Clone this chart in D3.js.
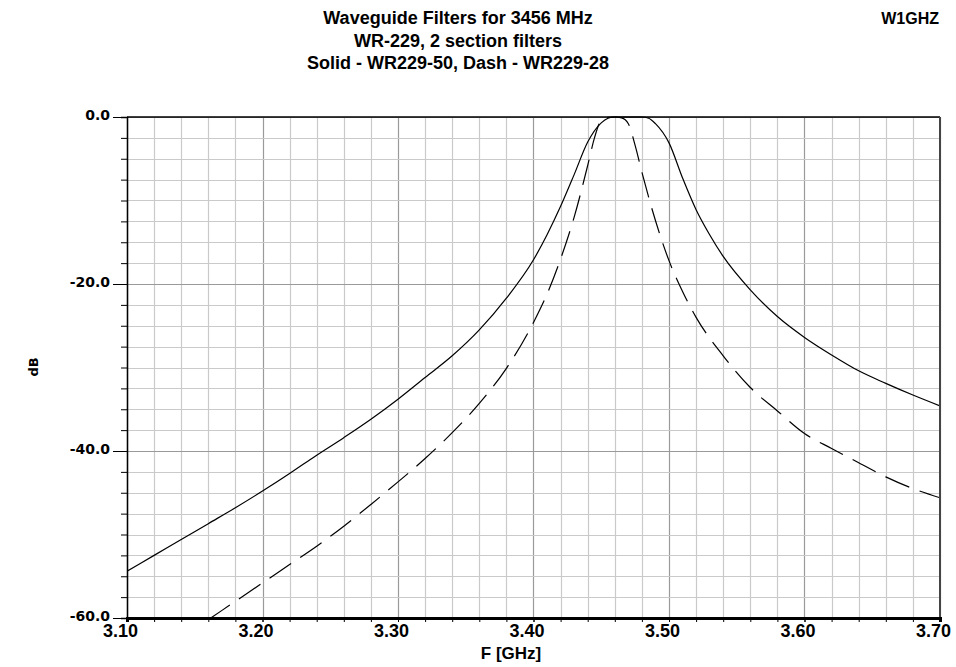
<!DOCTYPE html>
<html>
<head>
<meta charset="utf-8">
<script src="https://cdn.jsdelivr.net/npm/d3@7"></script>
<style>
  body { margin: 0; background: #fff; }
  svg { display: block; }
</style>
</head>
<body>
<script>
// page size
const width = 956;
const height = 667;

// plot area
const plotLeft = 127, plotRight = 940, plotTop = 117, plotBottom = 618;

// Solid - WR229-50 (frequency in GHz, response in dB)
const freqSolid = [3.10, 3.12, 3.14, 3.16, 3.18, 3.20, 3.22, 3.24, 3.26, 3.28, 3.30, 3.32, 3.34, 3.36, 3.38, 3.40,
    3.41, 3.42, 3.43, 3.44, 3.45, 3.455, 3.46, 3.47, 3.48, 3.485, 3.49, 3.50, 3.51, 3.52, 3.53, 3.54, 3.56, 3.58,
    3.60, 3.62, 3.64, 3.66, 3.68, 3.70];
const dbSolid = [-54.4, -52.5, -50.6, -48.7, -46.8, -44.8, -42.7, -40.5, -38.4, -36.2, -33.8, -31.2, -28.6, -25.5, -21.7, -17.1,
    -14.1, -10.7, -6.9, -3.0, -0.7, -0.15, 0, 0, 0, -0.15, -0.8, -3.1, -7.3, -11.1, -14.1, -16.7, -20.7, -23.9,
    -26.4, -28.5, -30.4, -31.9, -33.3, -34.6];

// Dash - WR229-28
const freqDash = [3.16, 3.18, 3.20, 3.22, 3.24, 3.26, 3.28, 3.30, 3.32, 3.34, 3.36, 3.38, 3.40, 3.41, 3.42, 3.43,
    3.44, 3.445, 3.45, 3.455, 3.46, 3.465, 3.47, 3.475, 3.48, 3.49, 3.50, 3.51, 3.52, 3.54, 3.56, 3.58, 3.60, 3.62,
    3.64, 3.66, 3.68, 3.70];
const dbDash = [-60.2, -58.0, -55.8, -53.6, -51.4, -49.0, -46.4, -43.7, -40.9, -37.8, -34.3, -30.1, -24.6, -21.2, -17.0, -12.0,
    -5.8, -2.5, -0.4, -0.05, 0, -0.1, -0.8, -3.4, -6.6, -12.4, -17.2, -20.9, -24.0, -28.6, -32.4, -35.2, -37.9, -39.7,
    -41.4, -43.1, -44.5, -45.6];

// tick labels
const xTicks = [3.10, 3.20, 3.30, 3.40, 3.50, 3.60, 3.70];
const yTicks = [0, -20, -40, -60];

const titleLines = ["Waveguide Filters for 3456 MHz", "WR-229, 2 section filters", "Solid - WR229-50, Dash - WR229-28"];

const svg = d3.select("body").append("svg")
    .attr("width", width)
    .attr("height", height);

// scales
const x = d3.scaleLinear().domain([3.10, 3.70]).range([plotLeft, plotRight]);
const y = d3.scaleLinear().domain([0, -60]).range([plotTop, plotBottom]);

const xMinor = d3.range(0, 31).map(i => 3.10 + i * 0.02);
const yMinor = d3.range(0, 25).map(i => -i * 2.5);

// grid
const grid = svg.append("g");
grid.selectAll(".vx")
    .data(xMinor)
    .join("line")
    .attr("x1", d => Math.round(x(d)) + 0.5)
    .attr("x2", d => Math.round(x(d)) + 0.5)
    .attr("y1", plotTop)
    .attr("y2", plotBottom)
    .attr("stroke", (d, i) => i % 5 === 0 ? "#9a9a9a" : "#cacaca")
    .attr("stroke-width", 1.2);
grid.selectAll(".hy")
    .data(yMinor)
    .join("line")
    .attr("x1", plotLeft)
    .attr("x2", plotRight)
    .attr("y1", d => Math.round(y(d)) + 0.5)
    .attr("y2", d => Math.round(y(d)) + 0.5)
    .attr("stroke", (d, i) => i % 8 === 0 ? "#9a9a9a" : "#cacaca")
    .attr("stroke-width", 1.2);

// clip for the curves
svg.append("clipPath").attr("id", "plotclip")
    .append("rect")
    .attr("x", plotLeft).attr("y", plotTop - 2)
    .attr("width", plotRight - plotLeft).attr("height", plotBottom - plotTop + 2);

const line = d3.line()
    .x(d => x(d[0]))
    .y(d => y(d[1]))
    .curve(d3.curveMonotoneX);

const curves = svg.append("g").attr("clip-path", "url(#plotclip)");
curves.append("path")
    .datum(d3.zip(freqSolid, dbSolid))
    .attr("d", line)
    .attr("fill", "none")
    .attr("stroke", "#000")
    .attr("stroke-width", 1.2);
curves.append("path")
    .datum(d3.zip(freqDash, dbDash))
    .attr("d", line)
    .attr("fill", "none")
    .attr("stroke", "#000")
    .attr("stroke-width", 1.2)
    .attr("stroke-dasharray", "26,11");

// frame
svg.append("line").attr("x1", plotLeft).attr("x2", plotRight).attr("y1", plotTop).attr("y2", plotTop)
    .attr("stroke", "#000").attr("stroke-width", 1.5);
svg.append("line").attr("x1", plotRight).attr("x2", plotRight).attr("y1", plotTop).attr("y2", plotBottom)
    .attr("stroke", "#444").attr("stroke-width", 2);

// y axis: minor ticks then labelled ticks
svg.append("g")
    .attr("transform", `translate(${plotLeft},0)`)
    .call(d3.axisLeft(y).tickValues(yMinor).tickSize(6).tickFormat(""))
    .call(g => g.select(".domain").attr("stroke-width", 1.5));
const yAxis = svg.append("g")
    .attr("transform", `translate(${plotLeft},0)`)
    .call(d3.axisLeft(y).tickValues(yTicks).tickSize(14).tickPadding(3).tickFormat(d => d.toFixed(1)));
yAxis.select(".domain").remove();
yAxis.selectAll("text")
    .attr("dy", "0.15em")
    .style("font-family", "'DejaVu Sans', sans-serif")
    .style("font-weight", "bold")
    .style("font-size", "14px")
    .attr("fill", "#000");

// x axis
svg.append("g")
    .attr("transform", `translate(0,${plotBottom})`)
    .call(d3.axisBottom(x).tickValues(xMinor).tickSize(4).tickFormat(""))
    .call(g => g.select(".domain").attr("stroke-width", 3));
const xAxis = svg.append("g")
    .attr("transform", `translate(0,${plotBottom})`)
    .call(d3.axisBottom(x).tickValues(xTicks).tickSize(4).tickPadding(2).tickFormat(d => d.toFixed(2)));
xAxis.select(".domain").remove();
xAxis.selectAll("text")
    .attr("dx", -7)
    .style("font-family", "'Liberation Sans', Arial, sans-serif")
    .style("font-weight", "bold")
    .style("font-size", "18px")
    .attr("fill", "#000");

// titles
const textFont = "'Liberation Sans', Arial, sans-serif";
svg.append("g").selectAll("text")
    .data(titleLines)
    .join("text")
    .attr("x", 458)
    .attr("y", (d, i) => 24 + i * 22.5)
    .attr("text-anchor", "middle")
    .style("font-family", textFont)
    .style("font-weight", "bold")
    .style("font-size", "18px")
    .text(d => d);

svg.append("text")
    .attr("x", 939)
    .attr("y", 24)
    .attr("text-anchor", "end")
    .style("font-family", textFont)
    .style("font-weight", "bold")
    .style("font-size", "16px")
    .text("W1GHZ");

svg.append("text")
    .attr("transform", "translate(38,367) rotate(-90)")
    .attr("text-anchor", "middle")
    .style("font-family", "'DejaVu Sans', sans-serif")
    .style("font-weight", "bold")
    .style("font-size", "13px")
    .text("dB");

svg.append("text")
    .attr("x", 511)
    .attr("y", 659)
    .attr("text-anchor", "middle")
    .style("font-family", textFont)
    .style("font-weight", "bold")
    .style("font-size", "17px")
    .text("F [GHz]");
</script>
</body>
</html>
